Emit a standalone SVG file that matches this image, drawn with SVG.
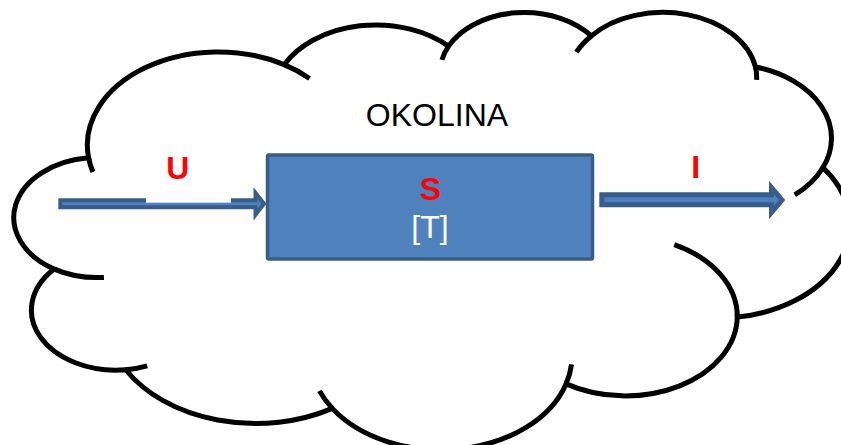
<svg xmlns="http://www.w3.org/2000/svg" width="841" height="445" viewBox="0 0 841 445">
  <defs>
    <style>
      .cloud { fill: #ffffff; stroke: #000000; stroke-width: 5; vector-effect: non-scaling-stroke; }
      .stub { fill: none; stroke: #000000; stroke-width: 5; vector-effect: non-scaling-stroke; }
      .box { fill: #4F81BD; stroke: #385D8A; stroke-width: 3.5; }
      .arrow { fill: #4F81BD; stroke: #385D8A; stroke-linejoin: miter; stroke-miterlimit: 10; }
      .lbl { font-family: "Liberation Sans", Arial, sans-serif; font-size: 32px; text-anchor: middle; }
      .red { fill: #FF0000; font-weight: bold; }
      .blk { fill: #000000; }
      .wht { fill: #FFFFFF; }
    </style>
  </defs>
  <rect width="841" height="445" fill="#ffffff"/>

  <g id="okolina">
    <g transform="translate(13,12) scale(0.019375,0.010139)">
      <path class="cloud" d="M 3900 14370 A 6753 9190 0 0 1 14000 5192 A 5333 7267 0 0 1 22480 3370 A 4365 5945 0 0 1 29850 2360 A 4857 6595 0 0 1 38324 5426 A 5333 7273 0 0 1 41798 15354 A 6775 9220 0 0 1 37381 30089 A 5785 7867 0 0 1 28545 36680 A 6752 9215 0 0 1 16478 39090 A 7720 10543 0 0 1 5819 35281 A 4360 5918 0 0 1 2128 25358 A 4345 5945 0 0 1 3900 14370 Z"/>
      <path class="stub" d="M 4693 26177 A 4345 5945 0 0 1 2128 25358 M 6928 34899 A 4360 5918 0 0 1 5819 35281 M 16478 39090 A 6752 9215 0 0 1 15817 37370 M 28827 34751 A 6752 9215 0 0 1 28545 36680 M 34129 22954 A 5785 7867 0 0 1 37381 30089 M 41798 15354 A 5333 7273 0 0 1 40349 18031 M 38324 5426 A 4857 6595 0 0 1 38381 6698 M 29078 3952 A 4857 6595 0 0 1 29850 2360 M 22141 4720 A 4365 5945 0 0 1 22480 3370 M 14000 5192 A 6753 9190 0 0 1 15305 6552 M 4127 15789 A 6753 9190 0 0 1 3900 14370"/>
    </g>
    <text class="lbl blk" x="437" y="126">OKOLINA</text>
  </g>

  <g id="connectors">
    <g id="input">
      <path class="arrow" stroke-width="4" d="M 60.3 200.3 L 255.5 200.3 L 255.5 193 L 264 203.8 L 255.5 214.7 L 255.5 207.3 L 60.3 207.3 Z"/>
      <rect x="146" y="150" width="85" height="52.7" fill="#ffffff"/>
      <text class="lbl red" x="177.8" y="179">U</text>
    </g>
    <g id="output">
      <path class="arrow" stroke-width="5" d="M 601.8 194.8 L 771.5 194.8 L 771.5 187.5 L 782 200 L 771.5 212.5 L 771.5 204.8 L 601.8 204.8 Z"/>
      <text class="lbl red" x="695.8" y="178.3">I</text>
    </g>
  </g>

  <g id="system">
    <rect class="box" x="267.5" y="155" width="325" height="104" rx="1.5"/>
    <text class="lbl red" x="430.5" y="200">S</text>
    <text class="lbl wht" x="430" y="238.3">[T]</text>
  </g>
</svg>
